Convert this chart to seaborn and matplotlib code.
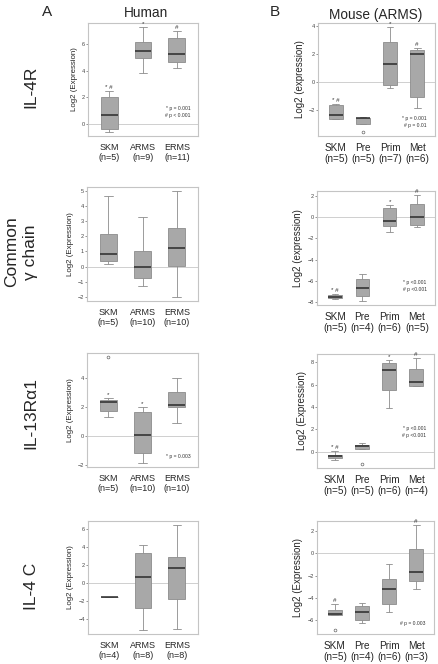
import matplotlib
matplotlib.use("Agg")
import matplotlib.pyplot as plt
import seaborn as sns
import pandas as pd

human_groups = ["SKM", "ARMS", "ERMS"]
mouse_groups = ["SKM", "Pre", "Prim", "Met"]

# five-number summaries per group: lower whisker, Q1, median, Q3, upper whisker
il4r_human_n = [5, 9, 11]
il4r_human = [[-0.6, -0.4, 0.7, 2.05, 2.5],
              [3.85, 5.0, 5.5, 6.2, 7.3],
              [4.2, 4.65, 5.25, 6.5, 7.0]]
il4r_human_out = []
il4r_human_marks = ["* #", "*", "#"]

gamma_human_n = [5, 10, 10]
gamma_human = [[0.15, 0.38, 0.82, 2.16, 4.66],
               [-1.28, -0.75, 0.0, 1.02, 3.25],
               [-2.0, 0.07, 1.21, 2.58, 4.99]]
gamma_human_out = []
gamma_human_marks = ["", "", ""]

il13_human_n = [5, 10, 10]
il13_human = [[1.32, 1.76, 2.36, 2.52, 2.62],
              [-1.87, -1.18, 0.07, 1.69, 1.99],
              [0.9, 1.99, 2.12, 3.03, 4.0]]
il13_human_out = [("SKM", 5.47)]
il13_human_marks = ["*", "*", ""]

il4c_human_n = [4, 8, 8]
il4c_human = [[-1.48, -1.48, -1.48, -1.48, -1.48],
              [-5.17, -2.69, 0.74, 3.32, 4.28],
              [-5.09, -1.7, 1.73, 2.95, 6.46]]
il4c_human_out = []
il4c_human_marks = ["", "", ""]

il4r_mouse_n = [5, 5, 7, 6]
il4r_mouse = [[-2.67, -2.67, -2.34, -1.63, -1.56],
              [-2.98, -2.98, -2.6, -2.56, -2.5],
              [-0.43, -0.26, 1.28, 2.84, 3.9],
              [-1.9, -1.09, 2.0, 2.27, 2.4]]
il4r_mouse_out = [("Pre", -3.57)]
il4r_mouse_marks = ["* #", "", "*", "#"]

gamma_mouse_n = [5, 4, 6, 5]
gamma_mouse = [[-7.7, -7.63, -7.5, -7.35, -7.26],
               [-7.88, -7.41, -6.7, -5.86, -5.33],
               [-1.4, -0.84, -0.37, 0.84, 1.12],
               [-0.97, -0.75, 0.0, 1.21, 2.05]]
gamma_mouse_out = []
gamma_mouse_marks = ["* #", "", "*", "#"]

il13_mouse_n = [5, 5, 6, 4]
il13_mouse = [[-0.72, -0.6, -0.42, -0.33, 0.03],
              [0.27, 0.27, 0.48, 0.6, 0.78],
              [3.92, 5.5, 7.3, 7.96, 8.2],
              [5.84, 5.9, 6.26, 7.42, 8.35]]
il13_mouse_out = [("Pre", -1.08)]
il13_mouse_marks = ["* #", "", "*", "#"]

il4c_mouse_n = [5, 4, 6, 3]
il4c_mouse = [[-5.53, -5.53, -5.47, -5.08, -4.54],
              [-6.29, -5.98, -5.32, -4.75, -4.48],
              [-5.26, -4.6, -3.22, -2.32, -0.99],
              [-3.22, -2.47, -1.65, 0.42, 2.53]]
il4c_mouse_out = [("SKM", -6.89)]
il4c_mouse_marks = ["#", "", "", "#"]

row_labels = ["IL-4R", "Common\nγ chain", "IL-13Rα1", "IL-4 C"]

W, H = 438, 664
sns.set_style("white")
plt.rcParams['font.family'] = ['Liberation Sans', 'DejaVu Sans']
fig = plt.figure(figsize=(W / 100, H / 100), dpi=100)


def rect(x0, y0, x1, y1):
    return [x0 / W, 1 - y1 / H, (x1 - x0) / W, (y1 - y0) / H]


def panel(box, groups, ns, stats, outs, marks, ylabel, note, note_y, ticks, fs):
    ax = fig.add_axes(rect(*box))
    df = pd.DataFrame([(g, v) for g, s in zip(groups, stats) for v in s],
                      columns=["group", "value"])
    ax.axhline(0, color="#cfcfcf", lw=0.7, zorder=0)
    sns.boxplot(data=df, x="group", y="value", order=groups, ax=ax,
                whis=(0, 100), width=0.5, color="#a8a8a8", saturation=1,
                linecolor="#8c8c8c", linewidth=0.6, showfliers=False,
                medianprops=dict(color="#2a2a2a", linewidth=1.1))
    if outs:
        od = pd.DataFrame(outs, columns=["group", "value"])
        sns.stripplot(data=od, x="group", y="value", order=groups, ax=ax,
                      jitter=False, color="white", edgecolor="#666666",
                      linewidth=0.5, size=2.0)
    for i, m in enumerate(marks):
        if m:
            ax.annotate(m, (i, stats[i][4]), xytext=(0, 0.8),
                        textcoords="offset points", ha="center", va="bottom",
                        fontsize=4.5, color="#333333")
    vals = df["value"].tolist() + [v for _, v in outs]
    lo, hi = min(vals), max(vals)
    pad = 0.04 * (hi - lo)
    ax.set_ylim(lo - pad, hi + pad)
    k = len(groups)
    ax.set_xlim(-0.5 - 0.04 * k, k - 0.5 + 0.04 * k)
    ax.set_yticks(ticks)
    ax.set_xticks(range(k))
    ax.set_xticklabels([f"{g}\n(n={n})" for g, n in zip(groups, ns)],
                       fontsize=fs, linespacing=1.15)
    ax.tick_params(axis="x", length=0, pad=5)
    ax.tick_params(axis="y", labelsize=4, length=1.5, width=0.4, pad=0.6,
                   colors="#444444", left=True)
    ax.set_xlabel("")
    ax.set_ylabel(ylabel, fontsize=fs - 0.8 if fs < 7 else 7, labelpad=3)
    for sp in ax.spines.values():
        sp.set_color("#c4c4c4")
        sp.set_linewidth(0.8)
    if note:
        ax.text(0.93, note_y, note, transform=ax.transAxes, ha="right",
                va="bottom", fontsize=3.6, linespacing=1.6, color="#333333")
    return ax


panel((88, 23, 198, 136), human_groups, il4r_human_n, il4r_human, il4r_human_out,
      il4r_human_marks, "Log2 (Expression)", "* p = 0.001\n# p < 0.001", 0.16,
      [0, 2, 4, 6], 6.5)
panel((87, 187, 198, 301), human_groups, gamma_human_n, gamma_human, gamma_human_out,
      gamma_human_marks, "Log2 (Expression)", "", 0, range(-2, 6), 6.5)
panel((87, 353, 198, 467), human_groups, il13_human_n, il13_human, il13_human_out,
      il13_human_marks, "Log2 (Expression)", "* p = 0.003", 0.07,
      [-2, 0, 2, 4], 6.5)
panel((88, 521, 198, 634), human_groups, il4c_human_n, il4c_human, il4c_human_out,
      il4c_human_marks, "Log2 (Expression)", "", 0, [-4, -2, 0, 2, 4, 6], 6.5)

panel((318, 23, 435, 136), mouse_groups, il4r_mouse_n, il4r_mouse, il4r_mouse_out,
      il4r_mouse_marks, "Log2 (expression)", "* p = 0.001\n# p = 0.01", 0.07,
      [-2, 0, 2, 4], 7.2)
panel((317, 191, 435, 305), mouse_groups, gamma_mouse_n, gamma_mouse, gamma_mouse_out,
      gamma_mouse_marks, "Log2 (expression)", "* p <0.001\n# p <0.001", 0.11,
      [-8, -6, -4, -2, 0, 2], 7.2)
panel((317, 354, 434, 468), mouse_groups, il13_mouse_n, il13_mouse, il13_mouse_out,
      il13_mouse_marks, "Log2 (Expression)", "* p <0.001\n# p <0.001", 0.26,
      [0, 2, 4, 6, 8], 7.2)
panel((317, 521, 434, 634), mouse_groups, il4c_mouse_n, il4c_mouse, il4c_mouse_out,
      il4c_mouse_marks, "Log2 (Expression)", "# p = 0.003", 0.07,
      [-6, -4, -2, 0, 2], 7.2)

fig.text(47 / W, 1 - 12 / H, "A", fontsize=11, ha="center", va="center")
fig.text(146 / W, 1 - 13 / H, "Human", fontsize=9.8, ha="center", va="center")
fig.text(275 / W, 1 - 12 / H, "B", fontsize=11, ha="center", va="center")
fig.text(376 / W, 1 - 15 / H, "Mouse (ARMS)", fontsize=9.8, ha="center", va="center")

for (x, y), lab in zip([(31, 87), (21, 252), (31, 413), (31, 586)], row_labels):
    fig.text(x / W, 1 - y / H, lab, fontsize=12.5, rotation=90, ha="center",
             va="center", multialignment="center", linespacing=1.35)

fig.savefig("out.png", dpi=100)
